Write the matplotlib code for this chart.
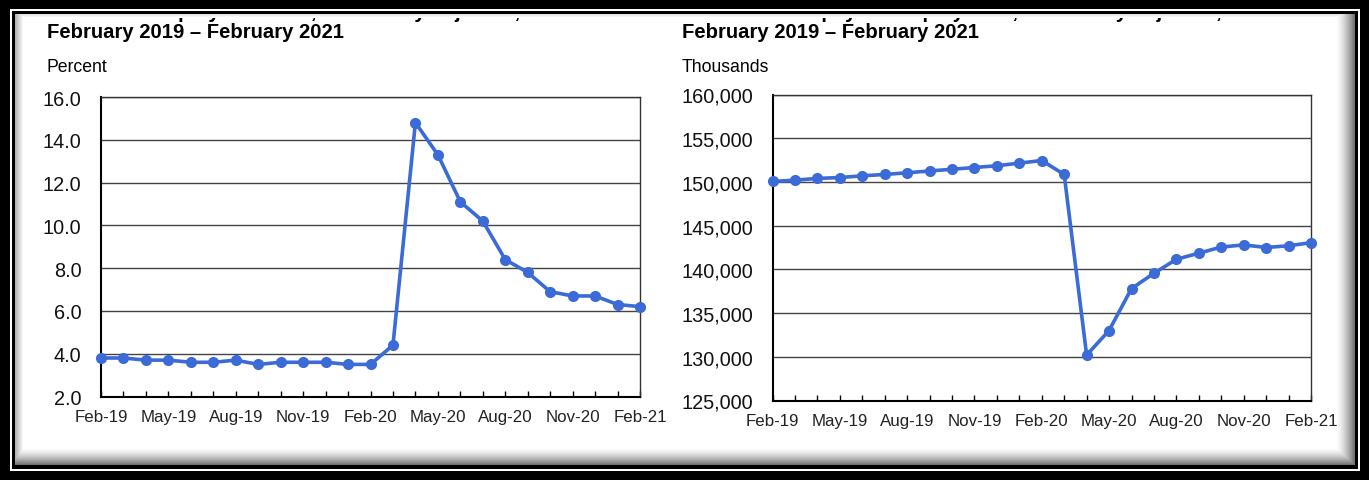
import numpy as np
import matplotlib
matplotlib.use('Agg')
from matplotlib import pyplot as plt
from matplotlib import font_manager as fm
from matplotlib.patches import Rectangle
from matplotlib.transforms import Bbox, TransformedBbox
from matplotlib.ticker import FixedLocator, FuncFormatter

# the source text looks like Arial Narrow; use the narrow Liberation face if it is there
names = set(f.name for f in fm.fontManager.ttflist)
if 'Liberation Sans Narrow' in names:
    plt.rcParams['font.family'] = ['Liberation Sans Narrow', 'DejaVu Sans']
    SZ = {'title': 17, 'unit': 14.5, 'ytick': 16.5, 'xtick': 14}
else:
    plt.rcParams['font.family'] = ['Liberation Sans', 'DejaVu Sans']
    SZ = {'title': 14.6, 'unit': 12.7, 'ytick': 14.3, 'xtick': 12.2}

# data, Feb-19 .. Feb-21
months = ['Feb-19', 'Mar-19', 'Apr-19', 'May-19', 'Jun-19', 'Jul-19', 'Aug-19', 'Sep-19',
          'Oct-19', 'Nov-19', 'Dec-19', 'Jan-20', 'Feb-20', 'Mar-20', 'Apr-20', 'May-20',
          'Jun-20', 'Jul-20', 'Aug-20', 'Sep-20', 'Oct-20', 'Nov-20', 'Dec-20', 'Jan-21', 'Feb-21']
unemp_rate = [3.8, 3.8, 3.7, 3.7, 3.6, 3.6, 3.7, 3.5, 3.6, 3.6, 3.6, 3.5, 3.5,
              4.4, 14.8, 13.3, 11.1, 10.2, 8.4, 7.8, 6.9, 6.7, 6.7, 6.3, 6.2]
payroll = [150050, 150200, 150400, 150500, 150700, 150850, 151050, 151250, 151450,
           151650, 151850, 152150, 152450, 150850, 130200, 133000, 137800, 139550,
           141150, 141850, 142550, 142800, 142500, 142700, 143050]
left_yticks = [2, 4, 6, 8, 10, 12, 14, 16]
right_yticks = [125000, 130000, 135000, 140000, 145000, 150000, 155000, 160000]
top_titles = ['Civilian unemployment rate, seasonally adjusted,',
              'Total nonfarm payroll employment, seasonally adjusted,']
sub_title = 'February 2019 \u2013 February 2021'
units = ['Percent', 'Thousands']

W, H = 1369, 481
BLUE = '#3b6bd6'

fig = plt.figure(figsize=(W / 100, H / 100), dpi=100, facecolor='black')


def fr(x0, y0, x1, y1):
    # pixel box (top-left origin) -> figure fraction rect
    return [x0 / W, 1 - y1 / H, (x1 - x0) / W, (y1 - y0) / H]


def rect(x0, y0, x1, y1, color, z):
    fig.patches.append(Rectangle((x0 / W, 1 - y1 / H), (x1 - x0) / W, (y1 - y0) / H,
                                 transform=fig.transFigure, facecolor=color,
                                 edgecolor='none', zorder=z))


# frame: black / white / black lines, then panel with soft shadow
rect(9.5, 9.5, 1360, 472, 'white', -3)
rect(12, 12, 1357.5, 469.5, 'black', -2)
bg = fig.add_axes(fr(14.5, 14.5, 1354.5, 466.5), zorder=-1)
bg.axis('off')
pw, ph = 1340, 452
xx, yy = np.meshgrid(np.arange(pw), np.arange(ph))
dark = np.maximum.reduce([
    np.clip((xx - (pw - 20)) / 20, 0, 1) ** 1.5 * 0.6,
    np.clip((yy - (ph - 18)) / 18, 0, 1) ** 1.5 * 0.6,
    np.clip((8 - xx) / 8, 0, 1) * 0.3,
    np.clip((4 - yy) / 4, 0, 1) * 0.15,
])
bg.imshow(1 - dark, cmap='gray', vmin=0, vmax=1, aspect='auto', interpolation='bilinear')

# only the descenders of the first title line show below the frame
cut = TransformedBbox(Bbox.from_extents(0, 0, 1, 1 - 18.7 / H), fig.transFigure)


def draw_panel(box, values, yticks, fmt, xt, title, unit):
    ax = fig.add_axes(fr(*box), zorder=1)
    x = np.arange(len(values))
    ax.plot(x, values, color=BLUE, lw=2.6, marker='o', ms=7, clip_on=False, zorder=3)
    ax.set_xlim(0, len(values) - 1)
    ax.set_ylim(yticks[0], yticks[-1])
    ax.set_yticks(yticks)
    ax.yaxis.set_major_formatter(FuncFormatter(fmt))
    ax.grid(axis='y', color='#444444', lw=1.0)
    ax.set_axisbelow(True)
    ax.xaxis.set_major_locator(FixedLocator(x[::3]))
    ax.xaxis.set_minor_locator(FixedLocator(x))
    ax.set_xticklabels(months[::3])
    ax.tick_params(axis='x', which='both', direction='in', length=4, width=1, pad=9,
                   labelsize=SZ['xtick'], labelcolor='#222222')
    ax.tick_params(axis='y', length=0, pad=14, labelsize=SZ['ytick'], labelcolor='#111111')
    for s in ax.spines.values():
        s.set_color('#333333')
        s.set_linewidth(1.0)
    ax.spines['left'].set_color('black')
    ax.spines['bottom'].set_color('black')
    ax.spines['left'].set_linewidth(1.5)
    ax.spines['bottom'].set_linewidth(1.5)
    t = fig.text(xt / W, 1 - 18 / H, title, fontsize=SZ['title'], fontweight='bold',
                 va='baseline', zorder=1)
    t.set_clip_box(cut)
    t.set_clip_on(True)
    fig.text(xt / W, 1 - 33 / H, sub_title, fontsize=SZ['title'], fontweight='bold',
             va='center', zorder=1)
    fig.text(xt / W, 1 - 68 / H, unit, fontsize=SZ['unit'], va='center', zorder=1)
    return ax


draw_panel((101, 98, 640, 397.5), unemp_rate, left_yticks,
           lambda v, p: '%.1f' % v, 47, top_titles[0], units[0])
draw_panel((772.5, 95.5, 1311, 401.5), payroll, right_yticks,
           lambda v, p: '{:,.0f}'.format(v), 682, top_titles[1], units[1])

fig.savefig('out.png', dpi=100, facecolor='black')
